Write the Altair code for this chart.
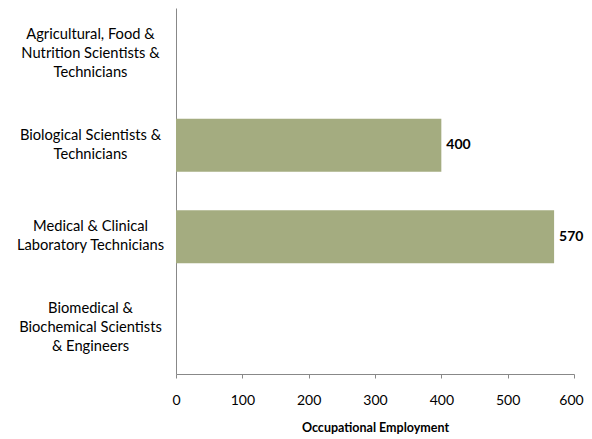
import altair as alt
import pandas as pd

categories = [
    "Agricultural, Food &\nNutrition Scientists &\nTechnicians",
    "Biological Scientists &\nTechnicians",
    "Medical & Clinical\nLaboratory Technicians",
    "Biomedical &\nBiochemical Scientists\n& Engineers",
]
values = [None, 400, 570, None]
x_ticks = [0, 100, 200, 300, 400, 500, 600]

df = pd.DataFrame({"category": categories, "value": values})

FONT = "Lato"
BAR = "#A4AC80"
LH = 19

y = alt.Y(
    "category:N",
    scale=alt.Scale(domain=categories, paddingInner=0.42, paddingOuter=0.21),
    axis=alt.Axis(
        title=None,
        ticks=False,
        labelAlign="center",
        labelBaseline="middle",
        labelPadding=86,
        labelExpr="split(datum.label, '\\n')",
        labelLineHeight=LH,
        labelOffset={
            "condition": {"test": "length(split(datum.value, '\\n')) == 3", "value": -LH},
            "value": -LH / 2,
        },
        labelFont=FONT,
        labelFontSize=14.7,
        labelColor="#000000",
        labelLimit=0,
        domainColor="#888888",
    ),
)
x = alt.X(
    "value:Q",
    scale=alt.Scale(domain=[0, 600], nice=False),
    axis=alt.Axis(
        title="Occupational Employment",
        titleFont=FONT,
        titleFontSize=12.5,
        titleFontWeight="bold",
        titleColor="#000000",
        titlePadding=14,
        values=x_ticks,
        grid=False,
        tickSize=4,
        tickColor="#888888",
        domainColor="#888888",
        labelFont=FONT,
        labelFontSize=14,
        labelColor="#000000",
        labelPadding=15,
        labelFlush=False,
        labelOffset={
            "condition": {"test": "datum.value == 600", "value": -3},
            "value": 0,
        },
    ),
)

base = alt.Chart(df).transform_filter("datum.value != null")
bars = base.mark_bar(color=BAR).encode(x=x, y=y)
labels = base.mark_text(
    align="left", baseline="middle", dx=5, font=FONT, fontSize=14, fontWeight="bold", color="#000000"
).encode(x=alt.X("value:Q"), y=alt.Y("category:N"), text=alt.Text("value:Q", format="d"))

chart = (
    alt.layer(bars, labels)
    .properties(
        width=398,
        height=366,
        background="white",
        autosize=alt.AutoSizeParams(type="none"),
        padding={"left": 168, "top": 0, "right": 10, "bottom": 64},
    )
    .configure_view(stroke="transparent", strokeWidth=0)
)

chart.save("out.html", embed_options={"renderer": "svg", "actions": False})
